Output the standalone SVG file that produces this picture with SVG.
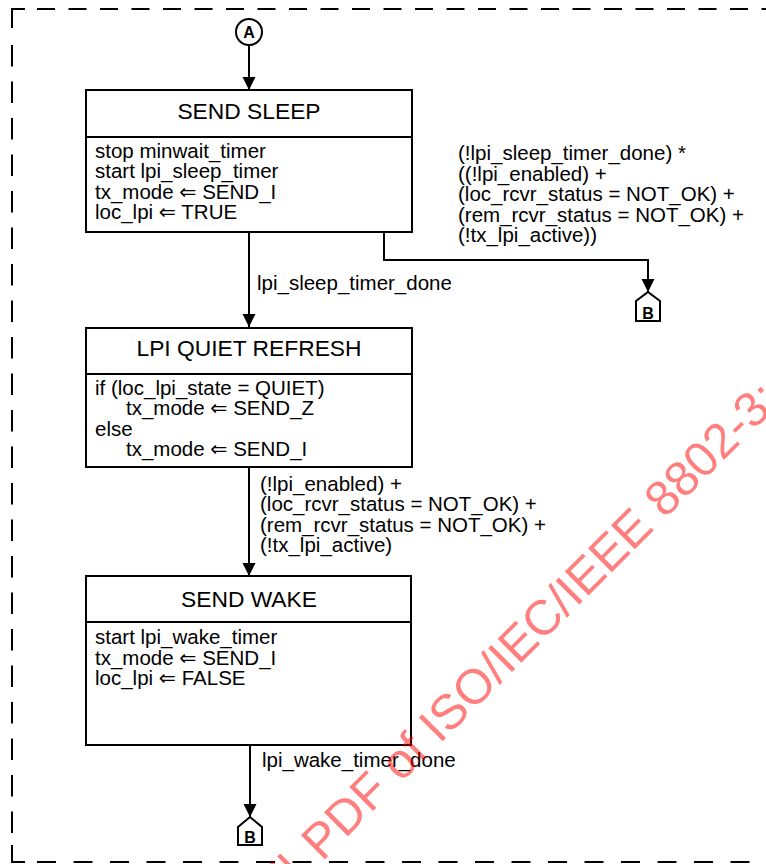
<svg xmlns="http://www.w3.org/2000/svg" width="766" height="864" viewBox="0 0 766 864">
<style>
.bx{fill:#fff;stroke:#000;stroke-width:2}
.ln{fill:none;stroke:#000;stroke-width:2}
.ttl{font-family:"Liberation Sans",Arial,sans-serif;font-size:22.8px;text-anchor:middle;fill:#000}
.tx{font-family:"Liberation Sans","DejaVu Sans",Arial,sans-serif;font-size:20.5px;fill:#000}
.cn{font-family:"Liberation Sans",Arial,sans-serif;font-size:16px;font-weight:bold;text-anchor:middle;fill:#000}
.brd{fill:none;stroke:#000;stroke-width:2}
.wm{font-family:"Liberation Sans",Arial,sans-serif;font-size:49px;fill:#ff0000;fill-opacity:0.5}
</style>
<defs>
<marker id="ah" markerUnits="userSpaceOnUse" markerWidth="13" markerHeight="14" refX="13" refY="6.5" orient="auto">
<path d="M0,0 L13,6.5 L0,13 z" fill="#000"/>
</marker>
</defs>
<rect width="766" height="864" fill="#fff"/>
<g id="border">
<path class="brd" d="M12,28 V9 H25"/>
<path class="brd" d="M37,9 H766" stroke-dasharray="18 13.5"/>
<path class="brd" d="M12,45 V845" stroke-dasharray="21.5 15"/>
<path class="brd" d="M12,845 V862 H25"/>
<path class="brd" d="M37,862 H766" stroke-dasharray="19 17.5"/>
</g>
<g id="connectors">
<path class="ln" d="M249,45 V90" marker-end="url(#ah)"/>
<path class="ln" d="M249,232 V327" marker-end="url(#ah)"/>
<path class="ln" d="M384,232 V260 H648 V292" marker-end="url(#ah)"/>
<path class="ln" d="M249,467 V576" marker-end="url(#ah)"/>
<path class="ln" d="M250,745 V817" marker-end="url(#ah)"/>
<text class="tx" x="257" y="290">lpi_sleep_timer_done</text>
<text class="tx">
<tspan x="458" y="160">(!lpi_sleep_timer_done) *</tspan>
<tspan x="458" y="180.5">((!lpi_enabled) +</tspan>
<tspan x="458" y="201">(loc_rcvr_status = NOT_OK) +</tspan>
<tspan x="458" y="221.5">(rem_rcvr_status = NOT_OK) +</tspan>
<tspan x="458" y="242">(!tx_lpi_active))</tspan>
</text>
<text class="tx">
<tspan x="260" y="490.5">(!lpi_enabled) +</tspan>
<tspan x="260" y="511">(loc_rcvr_status = NOT_OK) +</tspan>
<tspan x="260" y="531.5">(rem_rcvr_status = NOT_OK) +</tspan>
<tspan x="260" y="552">(!tx_lpi_active)</tspan>
</text>
<text class="tx" x="262" y="767">lpi_wake_timer_done</text>
</g>
<g id="connA">
<circle cx="249" cy="32" r="13" fill="#fff" stroke="#000" stroke-width="2"/>
<text class="cn" x="249" y="38">A</text>
</g>
<g id="sendSleep">
<rect class="bx" x="86" y="90" width="326" height="142"/>
<line class="ln" x1="86" y1="137" x2="412" y2="137"/>
<text class="ttl" x="249" y="119">SEND SLEEP</text>
<text class="tx">
<tspan x="95" y="157.5">stop minwait_timer</tspan>
<tspan x="95" y="178">start lpi_sleep_timer</tspan>
<tspan x="95" y="198.5">tx_mode ⇐ SEND_I</tspan>
<tspan x="95" y="219">loc_lpi ⇐ TRUE</tspan>
</text>
</g>
<g id="lpiQuietRefresh">
<rect class="bx" x="86" y="328" width="326" height="139"/>
<line class="ln" x1="86" y1="374" x2="412" y2="374"/>
<text class="ttl" x="249" y="356">LPI QUIET REFRESH</text>
<text class="tx">
<tspan x="95" y="394.5">if (loc_lpi_state = QUIET)</tspan>
<tspan x="126" y="415">tx_mode ⇐ SEND_Z</tspan>
<tspan x="95" y="435.5">else</tspan>
<tspan x="126" y="456">tx_mode ⇐ SEND_I</tspan>
</text>
</g>
<g id="sendWake">
<rect class="bx" x="86" y="576" width="325" height="169"/>
<line class="ln" x1="86" y1="622" x2="412" y2="622"/>
<text class="ttl" x="249" y="607">SEND WAKE</text>
<text class="tx">
<tspan x="95" y="644">start lpi_wake_timer</tspan>
<tspan x="95" y="664.5">tx_mode ⇐ SEND_I</tspan>
<tspan x="95" y="685">loc_lpi ⇐ FALSE</tspan>
</text>
</g>
<g id="connB1">
<polygon points="648,292 660,301 660,321 636,321 636,301" fill="#fff" stroke="#000" stroke-width="2"/>
<text class="cn" x="648" y="318.5">B</text>
</g>
<g id="connB2">
<polygon points="250,817 262,827 262,845 238,845 238,827" fill="#fff" stroke="#000" stroke-width="2"/>
<text class="cn" x="250" y="842.5">B</text>
</g>
<g id="watermark">
<text class="wm" transform="translate(322,862) rotate(-45)" x="0" y="0">PDF of ISO/IEC/IEEE 8802-3:</text>
<text class="wm" transform="translate(322,862) rotate(-45)" x="-42" y="0">ll</text>
</g>
</svg>
